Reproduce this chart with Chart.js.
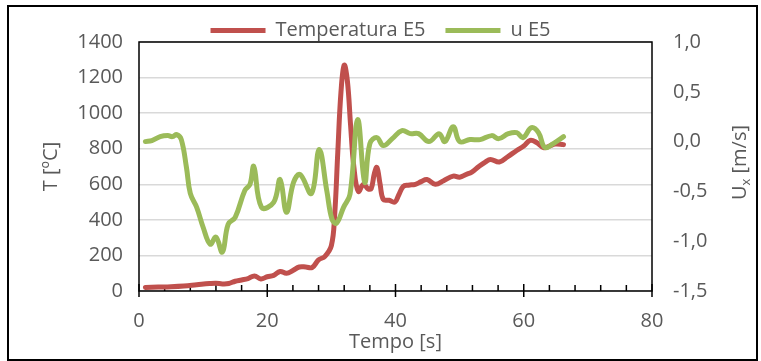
<!DOCTYPE html>
<html>
<head>
<meta charset="utf-8">
<script src="https://cdn.jsdelivr.net/npm/chart.js@4.4.1/dist/chart.umd.min.js"></script>
<style>
  html, body { margin: 0; padding: 0; background: #ffffff; }
  #wrap { width: 761px; height: 361px; }
</style>
</head>
<body>
<div id="wrap"><canvas id="c" width="761" height="361"></canvas></div>
<script>
// ---- data ----
const seriesNames = ['Temperatura E5', 'u E5'];
const timeT = [1, 3, 5, 7, 9, 11, 12, 13, 14, 15, 16, 17, 18, 19, 20, 21, 22, 23, 24, 25, 26, 27, 28, 29, 30, 30.5, 31, 31.5, 32, 32.5, 33, 33.5, 34.2, 35, 35.7, 36.2, 36.7, 37.1, 37.6, 38.1, 39, 39.9, 40.5, 41.2, 42, 43.1, 44, 44.9, 46.2, 47.5, 49, 50, 51, 51.9, 53, 54, 54.8, 56.2, 57.5, 58.9, 60, 61, 62, 63.1, 64, 64.9, 66.2];
const tempE5 = [20, 22, 24, 28, 35, 42, 44, 40, 42, 55, 62, 70, 85, 68, 80, 88, 110, 100, 115, 135, 135, 132, 175, 195, 255, 420, 780, 1120, 1270, 1180, 930, 700, 560, 600, 575, 575, 660, 695, 600, 515, 510, 500, 540, 588, 595, 600, 615, 627, 600, 620, 646, 640, 655, 669, 700, 725, 740, 725, 755, 790, 815, 847, 835, 806, 815, 826, 823];
const timeU = [1, 2, 3.3, 4.5, 5.2, 5.9, 6.6, 7.4, 8, 9, 10, 11.1, 12, 13, 13.9, 15, 16.5, 17.3, 17.9, 19.1, 21, 22, 23, 24.1, 25.1, 26.9, 28.1, 29.3, 30.1, 30.8, 31.9, 32.9, 34.1, 35.2, 36, 37.1, 38.1, 39.5, 41, 42.3, 43.6, 45.2, 46.8, 47.7, 49, 50, 51.6, 53.2, 55, 56.1, 57.6, 58.9, 59.9, 61.2, 62.3, 63.3, 64.6, 66.2];
const uE5 = [0.0, 0.01, 0.05, 0.06, 0.05, 0.07, 0.02, -0.26, -0.52, -0.66, -0.86, -1.03, -0.96, -1.11, -0.83, -0.76, -0.49, -0.43, -0.25, -0.66, -0.61, -0.38, -0.71, -0.41, -0.33, -0.52, -0.08, -0.5, -0.78, -0.82, -0.66, -0.53, 0.22, -0.41, -0.02, 0.04, -0.04, 0.03, 0.11, 0.08, 0.08, 0.0, 0.08, 0.0, 0.15, 0.0, 0.02, 0.02, 0.06, 0.03, 0.08, 0.09, 0.04, 0.14, 0.09, -0.06, -0.02, 0.05];
const xTitle = 'Tempo [s]';
const yTitle = 'T [ºC]';
const y1TitleParts = ['U', 'x', ' [m/s]'];

const FONT = 'Open Sans';
const GREY = '#595959';
const RED = '#C0504D';
const GREEN = '#9BBB59';

const toXY = (xs, ys) => xs.map((x, i) => ({ x: x, y: ys[i] }));

const decor = {
  id: 'decor',
  beforeDatasetsDraw(chart) {
    const { ctx, chartArea: a, scales: { x } } = chart;
    ctx.save();
    ctx.strokeStyle = '#000000';
    ctx.lineWidth = 1.5;
    ctx.strokeRect(a.left, a.top, a.right - a.left, a.bottom - a.top);
    ctx.beginPath();
    for (let v = x.min; v <= x.max; v += 4) {
      const px = x.getPixelForValue(v);
      if (v % 20 === 0) {
        ctx.moveTo(px, a.bottom - 7);
        ctx.lineTo(px, a.bottom + 6);
      } else {
        ctx.moveTo(px, a.bottom - 6);
        ctx.lineTo(px, a.bottom);
      }
    }
    ctx.stroke();
    ctx.restore();
  },
  afterDraw(chart) {
    const { ctx, chartArea: a } = chart;
    ctx.save();
    // outer frame
    ctx.strokeStyle = '#000000';
    ctx.lineWidth = 2;
    ctx.strokeRect(8, 6, 749, 354);
    // right axis title (bottom-to-top, with subscript)
    const big = '20px "' + FONT + '"';
    const small = '13px "' + FONT + '"';
    ctx.font = big;
    const w0 = ctx.measureText(y1TitleParts[0]).width;
    const w2 = ctx.measureText(y1TitleParts[2]).width;
    ctx.font = small;
    const w1 = ctx.measureText(y1TitleParts[1]).width;
    const total = w0 + w1 + w2;
    ctx.translate(740, (a.top + a.bottom) / 2 - 4);
    ctx.rotate(-Math.PI / 2);
    ctx.fillStyle = GREY;
    ctx.textBaseline = 'middle';
    ctx.textAlign = 'left';
    let cx = -total / 2;
    ctx.font = big;
    ctx.fillText(y1TitleParts[0], cx, 0);
    cx += w0;
    ctx.font = small;
    ctx.fillText(y1TitleParts[1], cx, 6);
    cx += w1;
    ctx.font = big;
    ctx.fillText(y1TitleParts[2], cx, 0);
    ctx.restore();
  }
};

const baseGenerate = Chart.defaults.plugins.legend.labels.generateLabels;

new Chart(document.getElementById('c'), {
  type: 'line',
  data: {
    datasets: [
      {
        label: seriesNames[0],
        data: toXY(timeT, tempE5),
        borderColor: RED,
        backgroundColor: RED,
        borderWidth: 5,
        pointRadius: 0,
        tension: 0.4,
        borderCapStyle: 'round',
        borderJoinStyle: 'round',
        yAxisID: 'y',
        order: 1
      },
      {
        label: seriesNames[1],
        data: toXY(timeU, uE5),
        borderColor: GREEN,
        backgroundColor: GREEN,
        borderWidth: 5,
        pointRadius: 0,
        tension: 0.4,
        borderCapStyle: 'round',
        borderJoinStyle: 'round',
        yAxisID: 'y1',
        order: 0
      }
    ]
  },
  options: {
    responsive: false,
    animation: false,
    events: [],
    layout: { padding: { top: 0.5, left: 0, right: 0, bottom: 0 } },
    plugins: {
      tooltip: { enabled: false },
      legend: {
        position: 'top',
        maxHeight: 41.5,
        labels: {
          font: { family: FONT, size: 20 },
          color: GREY,
          boxWidth: 55,
          boxHeight: 5,
          padding: 20,
          sort: (a, b) => a.datasetIndex - b.datasetIndex,
          generateLabels: (chart) => baseGenerate(chart).map(l => Object.assign(l, { lineWidth: 0 }))
        }
      }
    },
    scales: {
      x: {
        type: 'linear',
        min: 0,
        max: 80,
        ticks: { stepSize: 20, font: { family: FONT, size: 20 }, color: GREY, padding: 10, maxRotation: 0, callback: (v) => String(v) },
        grid: { drawOnChartArea: false, drawTicks: true, tickLength: 8, tickColor: 'rgba(0,0,0,0)' },
        border: { display: false },
        title: { display: true, text: xTitle, font: { family: FONT, size: 20 }, color: GREY, padding: { top: 0, bottom: 6.5 } },
        afterFit: (s) => { s.height = 70; }
      },
      y: {
        position: 'left',
        min: 0,
        max: 1400,
        ticks: { stepSize: 200, font: { family: FONT, size: 20 }, color: GREY, padding: 16, callback: (v) => String(v) },
        grid: { color: '#d9d9d9', lineWidth: 1.5, drawTicks: false },
        border: { display: false },
        title: { display: true, text: yTitle, font: { family: FONT, size: 20 }, color: GREY, padding: { top: 39, bottom: 0 } },
        afterFit: (s) => { s.width = 139; }
      },
      y1: {
        position: 'right',
        min: -1.5,
        max: 1.0,
        ticks: {
          stepSize: 0.5,
          font: { family: FONT, size: 20 },
          color: GREY,
          padding: 21,
          callback: (v) => Number(v).toFixed(1).replace('.', ',')
        },
        grid: { drawOnChartArea: false, drawTicks: false },
        border: { display: false },
        title: { display: false },
        afterFit: (s) => { s.width = 109; }
      }
    }
  },
  plugins: [decor]
});
</script>
</body>
</html>
